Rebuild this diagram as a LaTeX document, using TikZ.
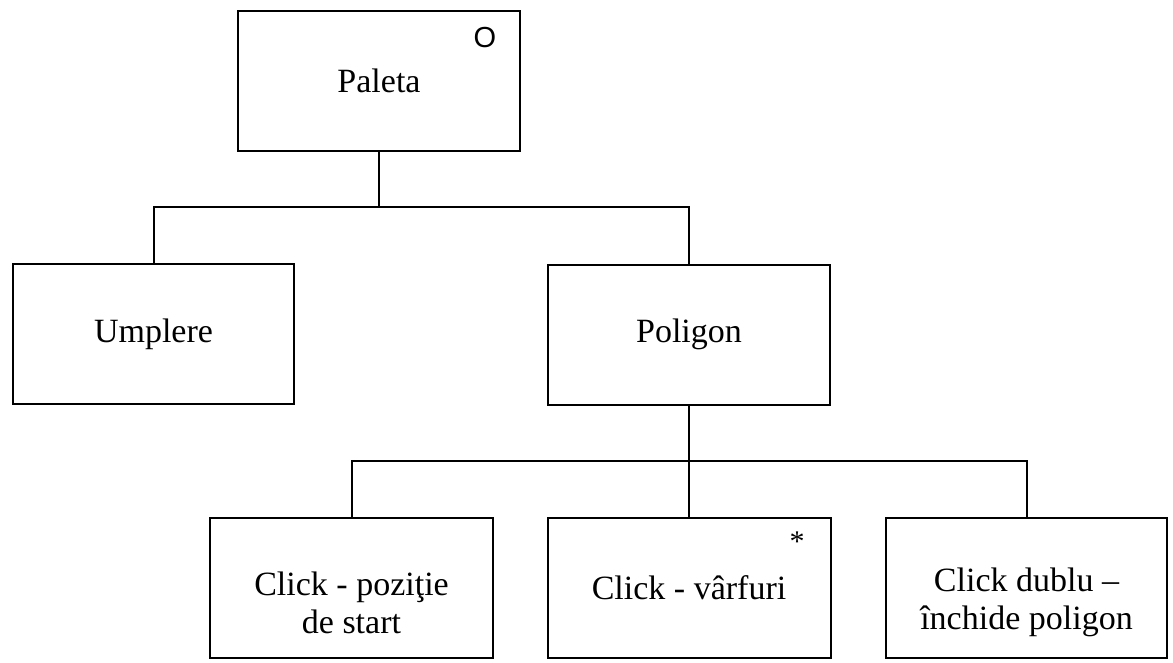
\documentclass[tikz,border=0pt]{standalone}
\usepackage{fontspec}
\setmainfont{Liberation Serif}
\newfontfamily\markfont{Liberation Sans}
\begin{document}
\begin{tikzpicture}[x=1pt,y=-1pt,
  box/.style={draw, line width=2pt, rectangle, inner sep=0pt, align=center,
    minimum height=140pt, font=\fontsize{34}{38}\selectfont},
  twoline/.style={label={[align=center, inner sep=0pt, yshift=-15pt,
    font=\fontsize{34}{38}\selectfont]center:#1}},
  link/.style={line width=2pt},
  tag/.style={inner sep=0pt}]
\useasboundingbox (0,0) rectangle (1173,662);
% boxes
\node[box, minimum width=282pt] (paleta)  at (379,80.5)   {Paleta};
\node[box, minimum width=281pt] (umplere) at (153.5,334)  {Umplere};
\node[box, minimum width=282pt] (poligon) at (689,334.5)  {Poligon};
\node[box, minimum width=283pt, twoline={Click - poziţie\\de start}] (start) at (351.5,587.5) {};
\node[box, minimum width=283pt] (varf)    at (689,587.5) {Click - vârfuri};
\node[box, minimum width=281pt, twoline={Click dublu –\\închide poligon}] (inchide) at (1026.5,587.5) {};
% markers
\node[tag, font=\markfont\fontsize{29}{29}\selectfont] (omark) at (485,38) {O};
\node[tag, font=\fontsize{30}{30}\selectfont] (star) at (797,542) {*};
% bus lines
\coordinate (busA) at (0,207);
\coordinate (busB) at (0,461);
\draw[link] (paleta.south) -- (paleta.south |- busA);
\draw[link] (umplere.north) |- (paleta.south |- busA) -| (poligon.north);
\draw[link] (poligon.south) -- (varf.north);
\draw[link] (start.north) |- (poligon.south |- busB) -| (inchide.north);
\end{tikzpicture}
\end{document}
